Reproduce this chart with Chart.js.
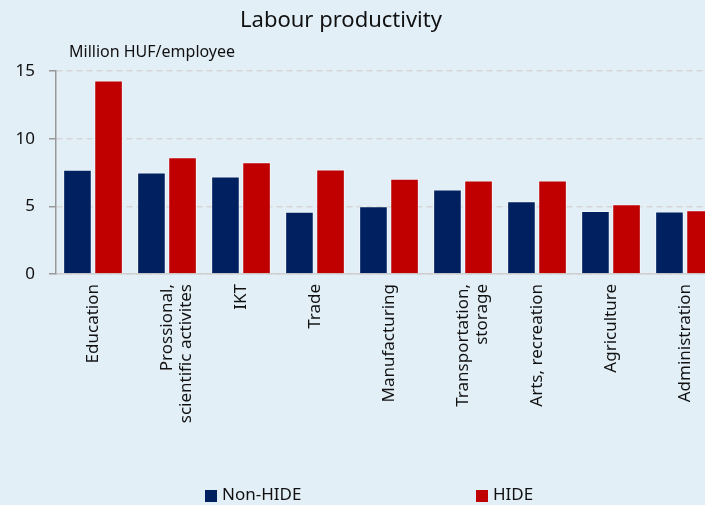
<!DOCTYPE html>
<html>
<head>
<meta charset="utf-8">
<script src="https://cdn.jsdelivr.net/npm/chart.js@4"></script>
<style>
  html, body { margin: 0; padding: 0; overflow: hidden; background: #e3eff7; }
  #wrap { width: 722px; height: 505px; }
</style>
</head>
<body>
<div id="wrap"><canvas id="myChart"></canvas></div>
<script>
const sectors = [
  'Education',
  ['Prossional,', 'scientific activites'],
  'IKT',
  'Trade',
  'Manufacturing',
  ['Transportation,', 'storage'],
  'Arts, recreation',
  'Agriculture',
  'Administration'
];
const nonHide = [7.7, 7.5, 7.2, 4.6, 5.0, 6.25, 5.37, 4.66, 4.61];
const hide = [14.3, 8.63, 8.26, 7.72, 7.03, 6.91, 6.91, 5.15, 4.71];
const yTicks = [0, 5, 10, 15];

const font = "'Noto Sans', sans-serif";

// title, unit and legend drawn at fixed spots
const headings = {
  id: 'headings',
  afterDraw(chart) {
    const ctx = chart.ctx;
    ctx.save();
    ctx.fillStyle = '#111';
    ctx.textBaseline = 'middle';
    ctx.textAlign = 'center';
    ctx.font = '22px ' + font;
    ctx.fillText('Labour productivity', 341, 21);
    ctx.textAlign = 'left';
    ctx.font = '16px ' + font;
    ctx.fillText('Million HUF/employee', 69, 52);
    const xs = [205, 476];
    chart.data.datasets.forEach((ds, i) => {
      ctx.fillStyle = ds.backgroundColor;
      ctx.fillRect(xs[i], 490, 12, 12);
      ctx.fillStyle = '#111';
      ctx.font = '17px ' + font;
      ctx.fillText(ds.label, xs[i] + 17, 495);
    });
    ctx.restore();
  }
};

const barData = {
  labels: sectors,
  datasets: [
    {
      label: 'Non-HIDE',
      backgroundColor: '#00205f',
      borderColor: 'rgba(255,255,255,0.45)',
      borderWidth: 1,
      data: nonHide,
    },
    {
      label: 'HIDE',
      backgroundColor: '#c00000',
      borderColor: 'rgba(255,255,255,0.45)',
      borderWidth: 1,
      data: hide,
    }
  ]
};

const barConfig = {
  type: 'bar',
  data: barData,
  options: {
    responsive: true,
    maintainAspectRatio: false,
    animation: false,
    layout: { padding: { top: 71, bottom: 30, left: 0, right: 0 } },
    datasets: {
      bar: { categoryPercentage: 0.84, barPercentage: 0.92 }
    },
    plugins: {
      legend: { display: false },
      title: { display: false },
      tooltip: { enabled: false }
    },
    scales: {
      x: {
        afterFit: (scale) => { scale.height = 201; },
        grid: { display: false, drawTicks: false },
        border: { display: true, color: '#cfcfcf', width: 1.5 },
        ticks: {
          color: '#111',
          font: { family: font, size: 17, lineHeight: 1.1 },
          maxRotation: 90,
          minRotation: 90,
          padding: 10,
          autoSkip: false
        }
      },
      y: {
        min: 0,
        max: 15,
        afterFit: (scale) => { scale.width = 56; },
        afterBuildTicks: (scale) => { scale.ticks = yTicks.map(v => ({ value: v })); },
        grid: {
          color: '#d6d6d6',
          lineWidth: 1.5,
          tickLength: 7,
          tickColor: '#999',
          tickBorderDash: [],
        },
        border: { display: true, color: '#999', width: 1.5, dash: [6, 4] },
        ticks: {
          color: '#111',
          font: { family: font, size: 17 },
          padding: 14
        }
      }
    }
  },
  plugins: [headings]
};

const myBarChart = new Chart(
  document.getElementById('myChart'),
  barConfig
);
</script>
</body>
</html>
